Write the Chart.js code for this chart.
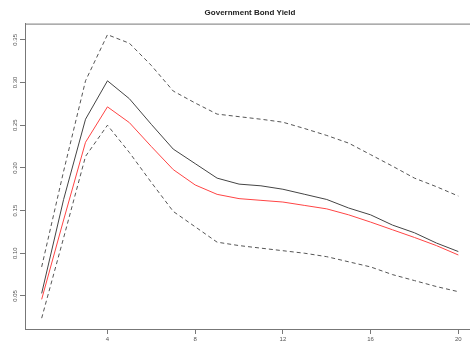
<!DOCTYPE html>
<html>
<head>
<meta charset="utf-8">
<script src="https://cdn.jsdelivr.net/npm/chart.js@4"></script>
<style>
  html, body { margin: 0; padding: 0; overflow: hidden; background: #fff; }
  #wrap { position: absolute; left: 0; top: 0; width: 480px; height: 345px; }
</style>
</head>
<body>
<div id="wrap"><canvas id="chart" width="480" height="345"></canvas></div>
<script>
// ===== Dados =====
const horizons = [1, 2, 3, 4, 5, 6, 7, 8, 9, 10, 11, 12, 13, 14, 15, 16, 17, 18, 19, 20];
const upperBand = [0.084, 0.196, 0.302, 0.356, 0.346, 0.320, 0.290, 0.276, 0.263, 0.260,
                   0.257, 0.2535, 0.246, 0.238, 0.229, 0.2155, 0.202, 0.188, 0.178, 0.167];
const response  = [0.053, 0.163, 0.257, 0.302, 0.281, 0.251, 0.222, 0.205, 0.188, 0.181,
                   0.179, 0.175, 0.169, 0.163, 0.153, 0.145, 0.133, 0.124, 0.112, 0.102];
const redLine   = [0.046, 0.139, 0.230, 0.2715, 0.253, 0.225, 0.198, 0.180, 0.169, 0.164,
                   0.162, 0.160, 0.156, 0.152, 0.145, 0.1365, 0.1275, 0.1185, 0.109, 0.098];
const lowerBand = [0.024, 0.118, 0.2135, 0.250, 0.218, 0.183, 0.149, 0.131, 0.113, 0.109,
                   0.106, 0.103, 0.100, 0.096, 0.090, 0.084, 0.075, 0.068, 0.061, 0.055];
const xTicks = [4, 8, 12, 16, 20];
const yTicks = [0.05, 0.10, 0.15, 0.20, 0.25, 0.30, 0.35];

const toPoints = arr => arr.map((v, i) => ({ x: horizons[i], y: v }));
const axisColor = "#777";

// caixa em volta da área do gráfico + rótulos verticais do eixo y
const rPlotPlugin = {
  id: "rPlot",
  afterDraw(chart) {
    const { ctx, chartArea: a, scales } = chart;
    ctx.save();
    ctx.strokeStyle = axisColor;
    ctx.lineWidth = 1;
    ctx.strokeRect(a.left + 0.5, a.top + 0.5, a.right - a.left, a.bottom - a.top);

    ctx.fillStyle = "#555";
    ctx.font = "6px 'Liberation Sans', Arial, sans-serif";
    ctx.textAlign = "center";
    ctx.textBaseline = "middle";
    yTicks.forEach(v => {
      const y = scales.y.getPixelForValue(v);
      ctx.save();
      ctx.translate(15, y);
      ctx.rotate(-Math.PI / 2);
      ctx.fillText(v.toFixed(2), 0, 0);
      ctx.restore();
    });
    ctx.restore();
  }
};

const line = (data, color, dashed) => ({
  data: toPoints(data),
  borderColor: color,
  borderWidth: 1,
  borderDash: dashed ? [4, 3] : [],
  pointRadius: 0,
  tension: 0,
  fill: false
});

new Chart(document.getElementById("chart"), {
  type: "line",
  data: {
    datasets: [
      line(upperBand, "#555", true),
      line(response, "#444", false),
      line(redLine, "#ff4444", false),
      line(lowerBand, "#555", true)
    ]
  },
  options: {
    responsive: false,
    animation: false,
    layout: { padding: { left: 0, right: 5, top: 0, bottom: 0 } },
    plugins: {
      legend: { display: false },
      tooltip: { enabled: false },
      title: {
        display: true,
        text: "Government Bond Yield",
        fullSize: false,
        color: "#222",
        font: { family: "'Liberation Sans', Arial, sans-serif", size: 8, weight: "bold" },
        padding: { top: 8, bottom: 6 }
      }
    },
    scales: {
      x: {
        type: "linear",
        min: 0.24,
        max: 20.76,
        afterBuildTicks: s => { s.ticks = xTicks.map(v => ({ value: v })); },
        afterFit: s => { s.height = 16; },
        grid: { drawOnChartArea: false, tickLength: 5, color: axisColor },
        border: { color: axisColor },
        ticks: {
          color: "#555",
          padding: 2,
          maxRotation: 0,
          font: { family: "'Liberation Sans', Arial, sans-serif", size: 6 }
        }
      },
      y: {
        min: 0.0113,
        max: 0.369,
        afterBuildTicks: s => { s.ticks = yTicks.map(v => ({ value: v })); },
        afterFit: s => { s.width = 25; },
        grid: { drawOnChartArea: false, tickLength: 5, color: axisColor },
        border: { color: axisColor },
        ticks: { display: false }
      }
    }
  },
  plugins: [rPlotPlugin]
});
</script>
</body>
</html>
